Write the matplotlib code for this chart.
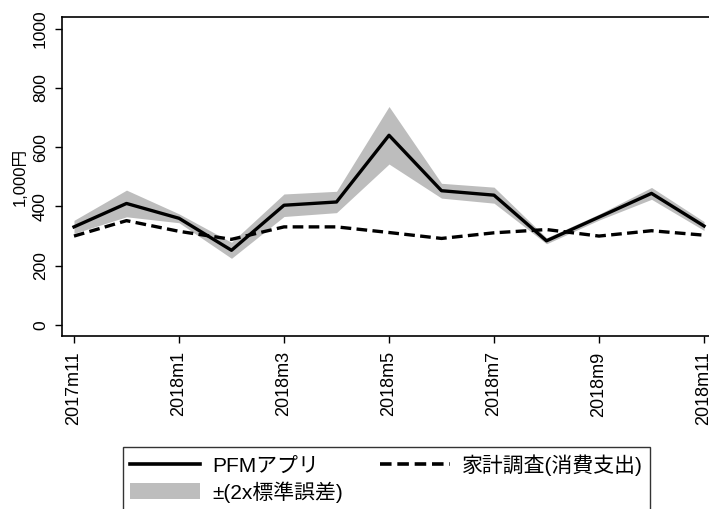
import numpy as np
import matplotlib
matplotlib.use("Agg")
import matplotlib.pyplot as plt
from matplotlib.patches import Patch
from matplotlib.lines import Line2D

plt.rcParams['font.family'] = ['Liberation Sans', 'Noto Sans CJK JP', 'DejaVu Sans']

months = ['2017m11', '2017m12', '2018m1', '2018m2', '2018m3', '2018m4', '2018m5',
          '2018m6', '2018m7', '2018m8', '2018m9', '2018m10', '2018m11']
pfm = [331, 410, 360, 252, 404, 415, 640, 453, 438, 284, 364, 444, 334]
pfm_se2 = [22, 45, 15, 27, 38, 36, 97, 25, 27, 10, 10, 20, 15]
survey = [300, 352, 316, 289, 331, 331, 312, 292, 311, 322, 300, 318, 303]
tick_months = [0, 2, 4, 6, 8, 10, 12]
yticks = [0, 200, 400, 600, 800, 1000]

x = np.arange(len(months))
pfm = np.array(pfm)
se = np.array(pfm_se2)

fig = plt.figure(figsize=(7.09, 5.09), dpi=100)
ax = fig.add_axes([62/709, 1 - 336/509, (712 - 62)/709, (336 - 17)/509])

band_color = '#bdbdbd'
ax.fill_between(x, pfm - se, pfm + se, color=band_color, lw=0, zorder=1)
ax.plot(x, pfm, color='black', lw=2.4, zorder=3)
ax.plot(x, survey, color='black', lw=2.4, linestyle=(0, (3.2, 1.6)), zorder=2)

ax.set_xlim(-0.2286, 12.152)
ax.set_ylim(-37.1, 1039)
ax.set_xticks(tick_months)
ax.set_xticklabels([months[i] for i in tick_months], rotation=90, fontsize=13)
ax.set_yticks(yticks)
ax.set_yticklabels([str(v) for v in yticks], rotation=90, va='center', fontsize=12.5)
ax.tick_params(axis='both', length=5, width=1, color='black', pad=6)
ax.tick_params(axis='y', pad=5)
for s in ax.spines.values():
    s.set_linewidth(1.2)
ax.spines['right'].set_visible(False)
ax.set_ylabel('1,000円', fontsize=12, labelpad=4)

handles = [Line2D([], [], color='black', lw=2.6),
           Patch(facecolor=band_color, edgecolor='none'),
           Line2D([], [], color='black', lw=2.6, linestyle=(0, (3.2, 1.6)))]
labels = ['PFMアプリ', '±(2x標準誤差)', '家計調査(消費支出)']
leg = fig.legend(handles, labels, loc='upper left', bbox_to_anchor=(123/709, 1 - 447/509),
                 ncol=2, fontsize=15, frameon=True, fancybox=False, edgecolor='black',
                 borderaxespad=0, borderpad=0.35, handlelength=3.36, handleheight=0.8,
                 handletextpad=0.58, columnspacing=1.75, labelspacing=0.25)
leg.get_frame().set_linewidth(1.0)

fig.savefig('out.png', dpi=100)
